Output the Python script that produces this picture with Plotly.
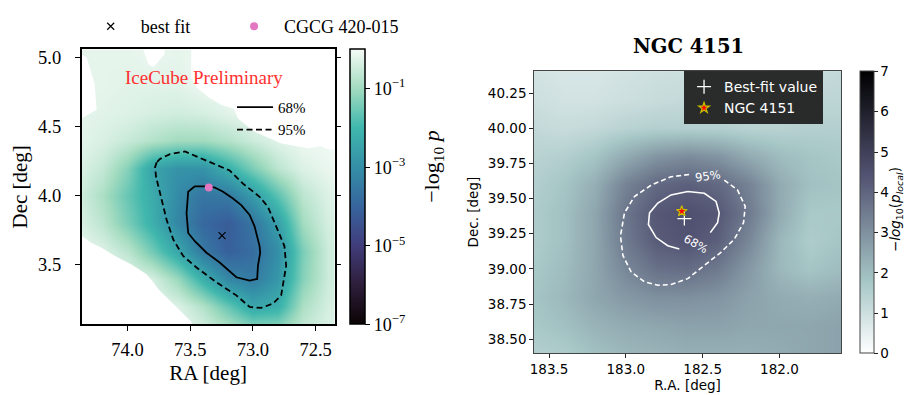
import plotly.graph_objects as go

# ---------------- left panel (IceCube) ----------------
ra_left = [74.4, 74.2, 74.0, 73.8, 73.6, 73.4, 73.2, 73.0, 72.8, 72.6, 72.4]
dec_left = [3.0, 3.2, 3.4, 3.6, 3.8, 4.0, 4.2, 4.4, 4.6, 4.8, 5.0]
logp_left = [
    [-0.05, -0.05, -0.05, -0.05, -0.1, -0.3, -0.6, -0.9, -0.9, -0.5, -0.3],
    [-0.05, -0.05, -0.05, -0.1, -0.3, -0.8, -1.6, -2.4, -2.2, -0.9, -0.4],
    [-0.05, -0.05, -0.15, -0.4, -1.1, -2.2, -3.2, -3.5, -2.8, -1.3, -0.5],
    [-0.1, -0.3, -0.7, -1.5, -2.4, -3.5, -4.1, -3.8, -3.0, -1.4, -0.5],
    [-0.3, -0.7, -1.4, -2.2, -3.2, -3.9, -4.2, -3.6, -2.6, -1.0, -0.4],
    [-0.4, -0.9, -1.6, -2.3, -3.1, -3.6, -3.5, -2.7, -1.7, -0.7, -0.3],
    [-0.3, -0.6, -1.3, -2.5, -2.9, -2.9, -2.2, -1.4, -0.7, -0.3, -0.15],
    [-0.2, -0.35, -0.55, -0.8, -1.0, -1.0, -0.8, -0.5, -0.25, -0.1, -0.05],
    [-0.2, -0.25, -0.3, -0.4, -0.45, -0.4, -0.25, -0.1, -0.05, -0.05, -0.05],
    [-0.2, -0.2, -0.25, -0.25, -0.25, -0.1, -0.05, -0.05, -0.05, -0.05, -0.05],
    [-0.2, -0.2, -0.2, -0.15, -0.2, -0.1, -0.05, -0.05, -0.05, -0.05, -0.05],
]

# masked (white) regions of the left map
mask_tl_ra = [74.5, 74.365, 74.325, 74.262, 74.246, 74.365, 74.5]
mask_tl_dec = [5.024, 5.024, 5.002, 4.809, 4.624, 4.559, 4.559]
mask_top_ra = [73.93, 73.833, 73.794, 73.706, 73.69]
mask_top_dec = [5.2, 4.952, 4.931, 5.024, 5.2]
mask_tr_ra = [73.492, 73.492, 73.452, 73.357, 73.254, 73.151, 73.119, 72.992,
              72.778, 72.563, 72.460, 72.397, 72.2, 72.2]
mask_tr_dec = [5.2, 4.859, 4.788, 4.716, 4.659, 4.631, 4.559, 4.466,
               4.381, 4.345, 4.359, 4.338, 4.33, 5.2]
mask_bl_ra = [74.5, 74.365, 74.286, 74.206, 74.103, 73.968, 73.849, 73.794,
              73.754, 73.675, 73.571, 73.492, 73.460, 73.44, 74.5]
mask_bl_dec = [3.709, 3.709, 3.659, 3.624, 3.566, 3.502, 3.431, 3.374,
               3.324, 3.252, 3.159, 3.088, 3.016, 2.9, 2.9]

# contours of the left map
c68_left_ra = [73.463, 73.516, 73.529, 73.516, 73.463, 73.370, 73.265, 73.132, 73.026,
               72.966, 72.960, 72.942, 72.947, 72.987, 73.026, 73.093, 73.159, 73.238,
               73.304, 73.357, 73.463]
c68_left_dec = [4.069, 4.029, 3.874, 3.731, 3.671, 3.588, 3.517, 3.410, 3.386,
                3.398, 3.493, 3.588, 3.636, 3.779, 3.862, 3.933, 3.981, 4.029,
                4.060, 4.069, 4.069]
c95_left_ra = [73.767, 73.780, 73.772, 73.741, 73.688, 73.635, 73.556, 73.450, 73.291,
               73.132, 73.026, 72.934, 72.841, 72.775, 72.735, 72.749, 72.815, 72.881,
               72.947, 73.079, 73.185, 73.344, 73.542, 73.661, 73.741, 73.767]
c95_left_dec = [4.243, 4.207, 4.136, 4.017, 3.826, 3.683, 3.564, 3.481, 3.374,
                3.279, 3.195, 3.188, 3.219, 3.279, 3.493, 3.636, 3.779, 3.921,
                3.993, 4.088, 4.183, 4.243, 4.321, 4.302, 4.267, 4.243]
bestfit_left = (73.246, 3.712)
source_left = (73.352, 4.060)

# ---------------- right panel (NGC 4151) ----------------
ra_right = [183.6, 183.4, 183.2, 183.0, 182.8, 182.6, 182.4, 182.2, 182.0, 181.8, 181.6]
dec_right = [38.4, 38.6, 38.8, 39.0, 39.2, 39.4, 39.6, 39.8, 40.0, 40.2, 40.4]
ts_right = [
    [1.5, 1.6, 1.9, 2.1, 2.2, 2.3, 2.3, 2.3, 2.4, 2.5, 2.6],
    [1.7, 1.9, 2.2, 2.4, 2.5, 2.6, 2.6, 2.5, 2.5, 2.5, 2.6],
    [1.8, 2.1, 2.5, 2.8, 3.0, 3.0, 2.9, 2.6, 2.4, 2.3, 2.4],
    [1.7, 2.0, 2.5, 3.2, 3.7, 3.8, 3.5, 2.8, 2.1, 1.8, 2.0],
    [1.6, 1.9, 2.5, 3.5, 4.2, 4.4, 4.1, 3.2, 2.1, 1.6, 1.8],
    [1.6, 1.9, 2.5, 3.6, 4.3, 4.5, 4.3, 3.5, 2.4, 1.7, 1.7],
    [1.5, 1.8, 2.3, 3.3, 3.9, 4.1, 3.9, 3.3, 2.4, 1.9, 1.8],
    [1.4, 1.5, 1.8, 2.4, 2.9, 3.1, 2.9, 2.4, 2.0, 1.8, 1.7],
    [1.2, 1.1, 1.2, 1.4, 1.5, 1.5, 1.5, 1.4, 1.4, 1.5, 1.5],
    [1.0, 0.9, 0.9, 1.0, 1.1, 1.2, 1.2, 1.1, 1.2, 1.3, 1.3],
    [0.9, 0.8, 0.8, 0.9, 1.0, 1.0, 1.0, 1.0, 1.1, 1.1, 1.2],
]
c68_right_ra = [182.652, 182.727, 182.803, 182.853, 182.846, 182.792, 182.706, 182.597,
                182.489, 182.413, 182.392, 182.403, 182.450]
c68_right_dec = [39.141, 39.165, 39.223, 39.316, 39.398, 39.468, 39.526, 39.550,
                 39.538, 39.480, 39.398, 39.328, 39.258]
c95_right_ra = [182.359, 182.273, 182.223, 182.234, 182.294, 182.381, 182.489, 182.597,
                182.706, 182.792, 182.879, 182.965, 183.019, 183.035, 183.009, 182.944,
                182.835, 182.706, 182.576]
c95_right_dec = [39.631, 39.561, 39.445, 39.328, 39.211, 39.118, 39.025, 38.931,
                 38.889, 38.884, 38.908, 38.978, 39.095, 39.235, 39.398, 39.515,
                 39.596, 39.655, 39.673]
label68_right = (182.543, 39.176)
label95_right = (182.465, 39.664)
bestfit_right = (182.619, 39.358)
source_right = (182.636, 39.410)

mako = [[0.0, "#0b0405"], [1 / 7, "#2e1e3b"], [2 / 7, "#413d7b"], [3 / 7, "#37659e"],
        [4 / 7, "#348fa7"], [5 / 7, "#40b7ad"], [6 / 7, "#a3dcc0"], [1.0, "#f6fbf7"]]
bone_r = [[0.0, "rgb(255,255,255)"], [0.253968, "rgb(166,198,198)"],
          [0.634921, "rgb(81,81,113)"], [1.0, "rgb(0,0,0)"]]

SERIF = "Liberation Serif"
SANS = "DejaVu Sans"
W, H = 912, 395
OFF = 8  # page body margin


def px(x):
    return (x - OFF) / W


def py(y):
    return 1 - (y - OFF) / H


fig = go.Figure()

fig.add_trace(go.Heatmap(
    x=ra_left, y=dec_left, z=logp_left, colorscale=mako, zmin=-7, zmax=0,
    zsmooth="best", hoverinfo="skip", xaxis="x", yaxis="y",
    colorbar=dict(
        x=px(347), xanchor="left", xpad=0, y=py(183.5), yanchor="middle", ypad=0,
        len=279 / H, lenmode="fraction", thickness=15, outlinecolor="black",
        outlinewidth=1.5, ticks="outside", ticklen=5, tickwidth=1.2, tickcolor="black",
        tickvals=[-7, -5, -3, -1],
        ticktext=["10<sup>−7</sup>", "10<sup>−5</sup>", "10<sup>−3</sup>", "10<sup>−1</sup>"],
        tickfont=dict(family=SERIF, size=18, color="black"),
    ),
))
for mra, mdec in [(mask_tl_ra, mask_tl_dec), (mask_top_ra, mask_top_dec),
                  (mask_tr_ra, mask_tr_dec), (mask_bl_ra, mask_bl_dec)]:
    fig.add_trace(go.Scatter(x=mra, y=mdec, mode="lines", fill="toself",
                             fillcolor="white", line=dict(width=0, color="white"),
                             hoverinfo="skip", showlegend=False, xaxis="x", yaxis="y"))
fig.add_trace(go.Scatter(x=c68_left_ra, y=c68_left_dec, mode="lines", name="68%",
                         line=dict(color="black", width=1.8), legend="legend2",
                         xaxis="x", yaxis="y"))
fig.add_trace(go.Scatter(x=c95_left_ra, y=c95_left_dec, mode="lines", name="95%",
                         line=dict(color="black", width=1.8, dash="6px,3.5px"),
                         legend="legend2", xaxis="x", yaxis="y"))
fig.add_trace(go.Scatter(x=[bestfit_left[0]], y=[bestfit_left[1]], mode="markers",
                         name="best fit", legend="legend",
                         marker=dict(symbol="x-thin", size=7, line=dict(color="black", width=1.2)),
                         xaxis="x", yaxis="y"))
fig.add_trace(go.Scatter(x=[source_left[0]], y=[source_left[1]], mode="markers",
                         name="CGCG 420-015", legend="legend4",
                         marker=dict(symbol="circle", size=8, color="#e377c2"),
                         xaxis="x", yaxis="y"))

fig.add_trace(go.Heatmap(
    x=ra_right, y=dec_right, z=ts_right, colorscale=bone_r, zmin=0, zmax=7,
    zsmooth="best", hoverinfo="skip", xaxis="x2", yaxis="y2",
    colorbar=dict(
        x=px(860), xanchor="left", xpad=0, y=py(209.5), yanchor="middle", ypad=0,
        len=286 / H, lenmode="fraction", thickness=14, outlinecolor="#444",
        outlinewidth=1, ticks="outside", ticklen=3.5, tickwidth=1, tickcolor="#222",
        tickvals=[0, 1, 2, 3, 4, 5, 6, 7],
        tickfont=dict(family=SANS, size=13.5, color="black"),
    ),
))
fig.add_trace(go.Scatter(x=c68_right_ra, y=c68_right_dec, mode="lines", showlegend=False,
                         line=dict(color="white", width=1.6), xaxis="x2", yaxis="y2"))
fig.add_trace(go.Scatter(x=c95_right_ra, y=c95_right_dec, mode="lines", showlegend=False,
                         line=dict(color="white", width=1.6, dash="5px,3px"),
                         xaxis="x2", yaxis="y2"))
fig.add_trace(go.Scatter(x=[bestfit_right[0]], y=[bestfit_right[1]], mode="markers",
                         name="Best-fit value", legend="legend3",
                         marker=dict(symbol="cross-thin", size=10, line=dict(color="white", width=1.3)),
                         xaxis="x2", yaxis="y2"))
fig.add_trace(go.Scatter(x=[source_right[0]], y=[source_right[1]], mode="markers",
                         name="NGC 4151", legend="legend3",
                         marker=dict(symbol="star", size=8, color="red",
                                     line=dict(color="#c8c000", width=1.2)),
                         xaxis="x2", yaxis="y2"))

leg_common = dict(bgcolor="rgba(0,0,0,0)", itemclick=False, itemdoubleclick=False,
                  xanchor="left", yanchor="top")
fig.update_layout(
    width=W, height=H, autosize=False, margin=dict(l=0, r=0, t=0, b=0),
    paper_bgcolor="white", plot_bgcolor="white",
    xaxis=dict(domain=[px(78), px(332)], anchor="y", range=[74.365, 72.349],
               tickvals=[74.0, 73.5, 73.0, 72.5],
               tickformat=".1f", ticks="outside", ticklen=5, tickwidth=1.2, tickcolor="black",
               showline=True, linecolor="black", linewidth=1.5, mirror=True, showgrid=False,
               zeroline=False, ticklabelstandoff=3,
               tickfont=dict(family=SERIF, size=18.5, color="black"),
               title=dict(text="RA [deg]", font=dict(family=SERIF, size=21, color="black"),
                          standoff=6)),
    yaxis=dict(domain=[py(323), py(44)], anchor="x", range=[3.07, 5.06],
               tickvals=[3.5, 4.0, 4.5, 5.0],
               tickformat=".1f", ticks="outside", ticklen=5, tickwidth=1.2, tickcolor="black",
               showline=True, linecolor="black", linewidth=1.5, mirror="ticks", showgrid=False,
               zeroline=False, ticklabelstandoff=10,
               tickfont=dict(family=SERIF, size=18.5, color="black"),
               title=dict(text="Dec [deg]", font=dict(family=SERIF, size=21, color="black"),
                          standoff=8)),
    xaxis2=dict(domain=[px(532), px(841)], anchor="y2", range=[183.6, 181.597],
                tickvals=[183.5, 183.0, 182.5, 182.0],
                tickformat=".1f", ticks="outside", ticklen=3.5, tickwidth=1, tickcolor="#222",
                showline=True, linecolor="#444", linewidth=1, mirror=True, showgrid=False,
                zeroline=False, tickfont=dict(family=SANS, size=13.5, color="black"),
                title=dict(text="R.A. [deg]", font=dict(family=SANS, size=13.5, color="black"),
                           standoff=1)),
    yaxis2=dict(domain=[py(352.3), py(66)], anchor="x2", range=[38.402, 40.406],
                tickvals=[38.5, 38.75, 39.0, 39.25, 39.5, 39.75, 40.0, 40.25],
                tickformat=".2f", ticks="outside", ticklen=3.5, tickwidth=1, tickcolor="#222",
                showline=True, linecolor="#444", linewidth=1, mirror=True, showgrid=False,
                zeroline=False, tickfont=dict(family=SANS, size=13.5, color="black"),
                title=dict(text="Dec. [deg]", font=dict(family=SANS, size=13.5, color="black"),
                           standoff=6)),
    legend=dict(x=px(77), y=py(2), itemwidth=50,
                font=dict(family=SERIF, size=18, color="black"), **leg_common),
    legend4=dict(x=px(221), y=py(2), itemwidth=50,
                 font=dict(family=SERIF, size=18, color="black"), **leg_common),
    legend2=dict(x=px(229), y=py(86), itemwidth=36,
                 font=dict(family=SERIF, size=15, color="black"),
                 tracegroupgap=0, **leg_common),
    legend3=dict(x=px(683), y=py(66), xanchor="left", yanchor="top",
                 bgcolor="rgba(28,28,28,0.92)", borderwidth=0,
                 font=dict(family=SANS, size=14, color="white"),
                 tracegroupgap=0, itemclick=False, itemdoubleclick=False),
    annotations=[
        dict(text="IceCube Preliminary", x=px(201), y=py(72), xref="paper", yref="paper",
             xanchor="center", yanchor="middle",
             showarrow=False, font=dict(family=SERIF, size=19, color="#ff3030")),
        dict(text="−log<sub>10</sub> <i>p</i>", x=px(431), y=py(163), xref="paper", yref="paper",
             xanchor="center", yanchor="middle",
             showarrow=False, textangle=-90, font=dict(family=SERIF, size=22, color="black")),
        dict(text="<b>NGC 4151</b>", x=px(687), y=py(41), xref="paper", yref="paper",
             xanchor="center", yanchor="middle",
             showarrow=False, font=dict(family="DejaVu Serif", size=19.5, color="black")),
        dict(text="<i>−log</i><sub>10</sub>(<i>p</i><sub><i>local</i></sub>)", x=px(896),
             y=py(207), xref="paper", yref="paper", showarrow=False, textangle=-90,
             xanchor="center", yanchor="middle",
             font=dict(family=SANS, size=13.5, color="black")),
        dict(text="68%", x=label68_right[0], y=label68_right[1], xref="x2", yref="y2",
             showarrow=False, textangle=30, font=dict(family=SANS, size=11.5, color="white")),
        dict(text="95%", x=label95_right[0], y=label95_right[1], xref="x2", yref="y2",
             showarrow=False, textangle=-8, font=dict(family=SANS, size=11.5, color="white")),
    ],
)

fig.write_html("out.html")
